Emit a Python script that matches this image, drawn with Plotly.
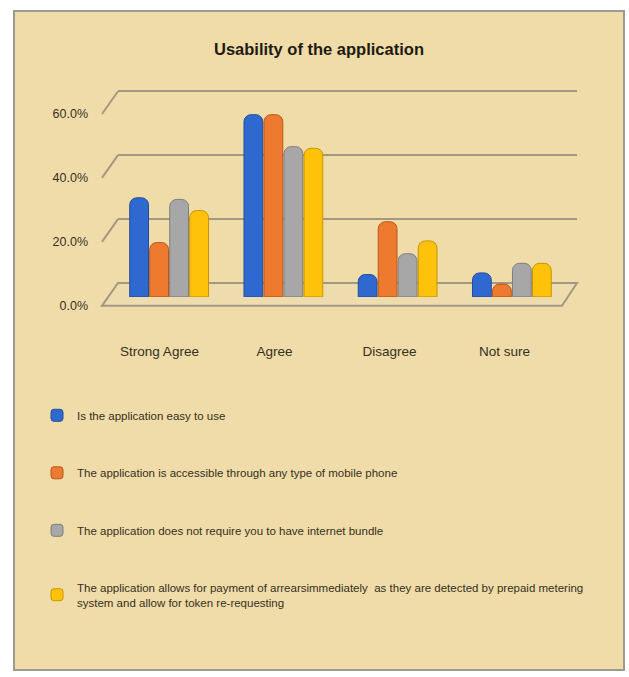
import plotly.graph_objects as go

# ---------------- data ----------------
categories = ["Strong Agree", "Agree", "Disagree", "Not sure"]
series_names = [
    "Is the application easy to use",
    "The application is accessible through any type of mobile phone",
    "The application does not require you to have internet bundle",
    "The application allows for payment of arrearsimmediately  as they are detected by prepaid metering<br>system and allow for token re-requesting",
]
easy_to_use = [31.0, 57.0, 7.0, 7.5]
accessible_any_phone = [17.0, 57.0, 23.5, 4.0]
no_internet_bundle = [30.5, 47.0, 13.5, 10.5]
arrears_payment = [27.0, 46.5, 17.5, 10.5]
tick_values = [0, 20, 40, 60]
tick_labels = ["0.0%", "20.0%", "40.0%", "60.0%"]
title_text = "Usability of the application"

series_values = [easy_to_use, accessible_any_phone, no_internet_bundle, arrears_payment]
colors = ["#2F68CE", "#EE7A2F", "#A7A7A7", "#FFC20A"]
edge_colors = ["#1F4E9E", "#B8561A", "#7E7E7E", "#C79400"]

# ---------------- geometry helpers (pixels -> paper) ----------------
W, H = 629, 677
def px(x):
    return x / W
def py(y):
    return 1 - y / H

YMAX = 65
PPU = 3.23  # pixels per percent
FONT = "Liberation Sans, Arial, sans-serif"
TXT = "#35301F"

def fnt(size, color=TXT, weight="normal"):
    return dict(family=FONT, size=size, color=color, weight=weight)

fig = go.Figure()

# back wall (first subplot, drawn beneath everything else)
fig.add_trace(go.Scatter(x=categories, y=[0] * len(categories), mode="markers",
                         marker=dict(opacity=0), showlegend=False, hoverinfo="skip",
                         xaxis="x", yaxis="y"))

# bars (middle depth plane)
for name, vals, c, ec in zip(series_names, series_values, colors, edge_colors):
    fig.add_trace(go.Bar(
        x=categories, y=vals, name=name,
        marker=dict(color=c, line=dict(color=ec, width=1)),
        legendgroup=name, hoverinfo="skip",
        xaxis="x2", yaxis="y2",
    ))

# front plane, carries the axis labels
fig.add_trace(go.Scatter(x=categories, y=[0] * len(categories), mode="markers",
                         marker=dict(opacity=0), showlegend=False, hoverinfo="skip",
                         xaxis="x3", yaxis="y3"))

# plot geometry (pixels)
bar_left, bar_right, bar_base = 112, 569, 300
back_left, back_right, back_base = 118, 577, 286
front_left, front_right, front_base = 102, 562, 309

hidden = dict(showgrid=False, zeroline=False, showticklabels=False, showline=False, ticks="")

fig.update_layout(
    width=W, height=H,
    margin=dict(l=0, r=0, t=0, b=0),
    paper_bgcolor="white",
    plot_bgcolor="rgba(0,0,0,0)",
    barmode="group", bargap=0.3, bargroupgap=0.06,
    barcornerradius=7,
    font=fnt(12),
    title=dict(text=title_text, x=px(319), xanchor="center", y=py(49), yanchor="middle",
               font=fnt(16.5, "#1E1B14", "bold")),
    xaxis=dict(domain=[px(back_left), px(back_right)], anchor="y", type="category",
               range=[-0.5, 3.5], **hidden),
    yaxis=dict(domain=[py(back_base), py(back_base - YMAX * PPU)], anchor="x",
               range=[0, YMAX], showgrid=True, gridcolor="#A39983", gridwidth=2,
               tickvals=tick_values, zeroline=False, showticklabels=False, showline=False, ticks=""),
    xaxis2=dict(domain=[px(bar_left), px(bar_right)], anchor="y2", type="category",
                range=[-0.5, 3.5], **hidden),
    yaxis2=dict(domain=[py(bar_base), py(bar_base - YMAX * PPU)], anchor="x2",
                range=[0, YMAX], **hidden),
    xaxis3=dict(domain=[px(front_left), px(front_right)], anchor="y3", type="category",
                range=[-0.5, 3.5], showgrid=False, zeroline=False, showline=False,
                ticks="", showticklabels=True, ticklabelstandoff=36,
                tickfont=fnt(13.5)),
    yaxis3=dict(domain=[py(front_base), py(front_base - YMAX * PPU)], anchor="x3",
                range=[0, YMAX], showgrid=False, zeroline=False, showline=False,
                ticks="", tickvals=tick_values, ticktext=tick_labels, ticklabelstandoff=13,
                tickfont=fnt(12.5)),
    legend=dict(x=px(37), xanchor="left", y=py(405), yanchor="top",
                orientation="v", bgcolor="rgba(0,0,0,0)", tracegroupgap=38.5,
                itemwidth=30, font=fnt(11.5)),
    showlegend=True,
)

shapes = []
# frame
shapes.append(dict(type="rect", xref="paper", yref="paper", layer="below",
                   x0=px(14), x1=px(624), y0=py(677), y1=py(11),
                   fillcolor="#F0DCA8", line=dict(color="#9E9A92", width=2)))
# floor
shapes.append(dict(type="path", xref="paper", yref="paper", layer="below",
                   path=(f"M {px(front_left)} {py(front_base)} L {px(front_right)} {py(front_base)} "
                         f"L {px(back_right)} {py(back_base)} L {px(back_left)} {py(back_base)} Z"),
                   fillcolor="rgba(235,220,180,0.5)", line=dict(color="#A39983", width=2)))
# side-wall connectors for gridlines
for v in tick_values[1:]:
    shapes.append(dict(type="line", xref="paper", yref="paper", layer="below",
                       x0=px(front_left), y0=py(front_base - v * PPU),
                       x1=px(back_left), y1=py(back_base - v * PPU),
                       line=dict(color="#A39983", width=2)))
fig.update_layout(shapes=shapes)

fig.write_html("out.html")
